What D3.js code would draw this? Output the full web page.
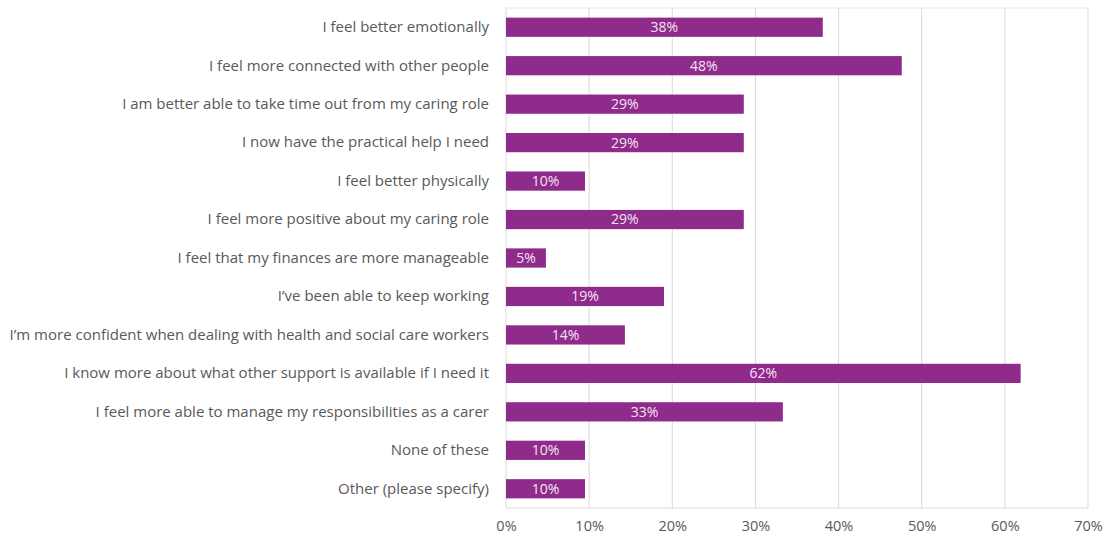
<!DOCTYPE html>
<html>
<head>
<meta charset="utf-8">
<script src="https://cdn.jsdelivr.net/npm/d3@7"></script>
<style>
  html, body { margin: 0; padding: 0; background: #ffffff; }
  svg { display: block; }
  text { font-family: "Open Sans", "Liberation Sans", sans-serif; }
</style>
</head>
<body>
<svg id="chart" width="1106" height="539"></svg>
<script>
const categories = [
  "I feel better emotionally",
  "I feel more connected with other people",
  "I am better able to take time out from my caring role",
  "I now have the practical help I need",
  "I feel better physically",
  "I feel more positive about my caring role",
  "I feel that my finances are more manageable",
  "I\u2019ve been able to keep working",
  "I\u2019m more confident when dealing with health and social care workers",
  "I know more about what other support is available if I need it",
  "I feel more able to manage my responsibilities as a carer",
  "None of these",
  "Other (please specify)"
];
const values = [0.381, 0.476, 0.286, 0.286, 0.095, 0.286, 0.048, 0.190, 0.143, 0.619, 0.333, 0.095, 0.095];
const tickValues = [0, 0.1, 0.2, 0.3, 0.4, 0.5, 0.6, 0.7];

const svg = d3.select("#chart");
const plotLeft = 506, plotRight = 1088, plotTop = 8, plotBottom = 508;

const x = d3.scaleLinear().domain([0, 0.7]).range([plotLeft, plotRight]);
const y = d3.scaleBand().domain(categories).range([plotTop, plotBottom]).paddingInner(0.5).paddingOuter(0.25);

// gridlines
svg.append("g").selectAll("line").data(tickValues).join("line")
  .attr("x1", d => x(d)).attr("x2", d => x(d))
  .attr("y1", plotTop).attr("y2", plotBottom)
  .attr("stroke", "#d9d9d9").attr("stroke-width", 1);
// top & bottom border
svg.append("line").attr("x1", plotLeft).attr("x2", plotRight).attr("y1", plotTop).attr("y2", plotTop).attr("stroke", "#e3e3e3");
svg.append("line").attr("x1", plotLeft).attr("x2", plotRight).attr("y1", plotBottom).attr("y2", plotBottom).attr("stroke", "#d9d9d9");

// bars
svg.append("g").selectAll("rect").data(values).join("rect")
  .attr("x", x(0))
  .attr("y", (d, i) => y(categories[i]))
  .attr("width", d => x(d) - x(0))
  .attr("height", y.bandwidth())
  .attr("fill", "#8f2b8b");

// value labels
const fmt = d3.format(".0%");
svg.append("g").selectAll("text").data(values).join("text")
  .attr("x", d => (x(0) + x(d)) / 2)
  .attr("y", (d, i) => y(categories[i]) + y.bandwidth() / 2)
  .attr("dy", "0.35em")
  .attr("text-anchor", "middle")
  .attr("fill", "#f4e4f3")
  .attr("font-size", 14)
  .text(d => fmt(d));

// y axis labels
const yAxis = d3.axisLeft(y).tickSize(0).tickPadding(17);
const gy = svg.append("g").attr("transform", `translate(${plotLeft},0)`).call(yAxis);
gy.select(".domain").remove();
gy.selectAll("text").attr("fill", "#595959").attr("font-size", 15)
  .style("font-family", "'Open Sans', sans-serif");

// x axis
const xAxis = d3.axisBottom(x).tickValues(tickValues).tickFormat(fmt).tickSize(0).tickPadding(13);
const gx = svg.append("g").attr("transform", `translate(0,${plotBottom})`).call(xAxis);
gx.select(".domain").remove();
gx.selectAll("text").attr("fill", "#595959").attr("font-size", 14.5)
  .style("font-family", "'Open Sans', sans-serif");
</script>
</body>
</html>
